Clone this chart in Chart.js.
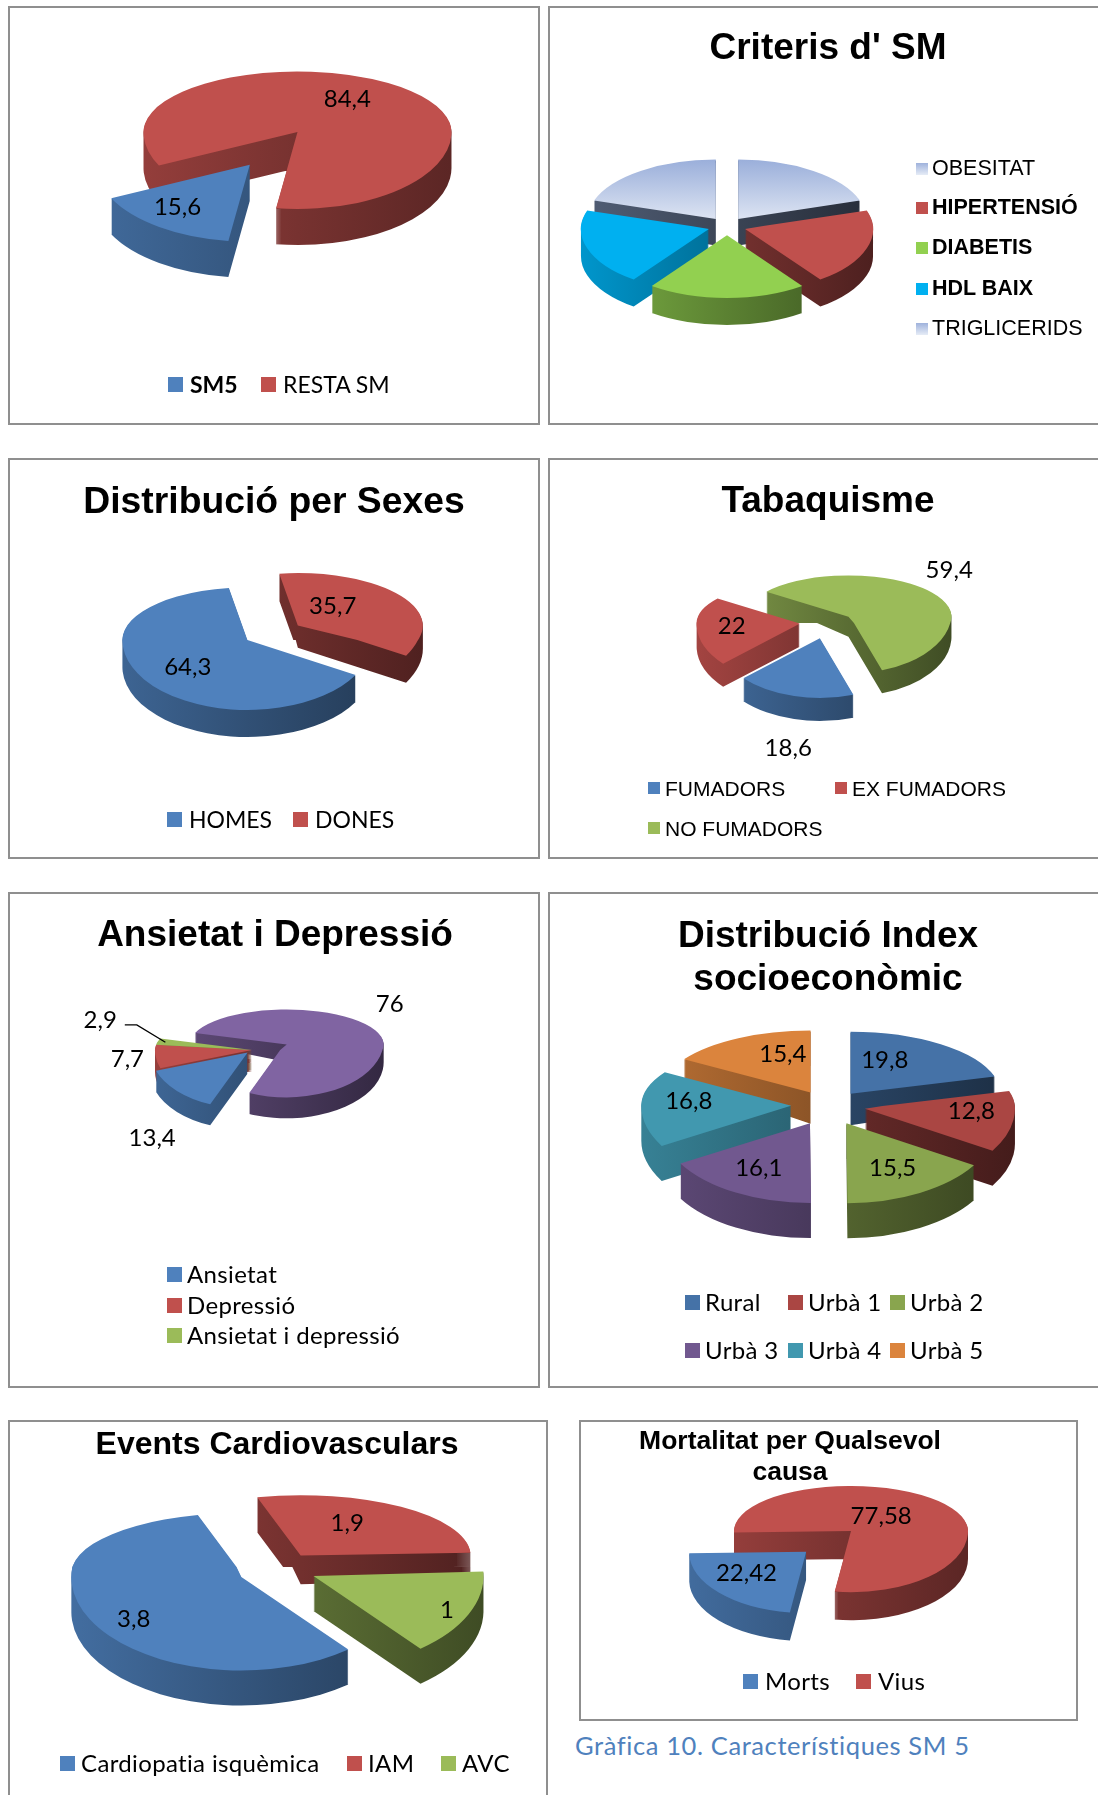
<!DOCTYPE html>
<html>
<head>
<meta charset="utf-8">
<title>Característiques SM 5</title>
<script src="https://cdn.jsdelivr.net/npm/chart.js@4.4.1/dist/chart.umd.min.js"></script>
<style>
  html, body { margin: 0; padding: 0; background: #fff; }
  body { position: relative; width: 1098px; height: 1795px; overflow: hidden; }
  .panel { position: absolute; border: 2px solid #8f8f8f; box-sizing: border-box; }
  canvas { position: absolute; }
  .title { position: absolute; font-family: "Liberation Sans", Arial, sans-serif; font-weight: bold;
           color: #000; text-align: center; white-space: nowrap; transform: translateX(-50%); }
  .key { position: absolute; display: flex; align-items: center; white-space: nowrap; line-height: 1; color: #000; }
  .key i { display: inline-block; flex: none; }
  .caption { position: absolute; font-family: Lato, sans-serif; color: #4f81bd; font-size: 25.5px;
             line-height: 26px; letter-spacing: 0.6px; white-space: nowrap; }
</style>
</head>
<body>
<script>
// values of every pie, in drawing order (clockwise from the first slice)
const sm5Labels = ['SM5', 'RESTA SM'];
const sm5Values = [15.6, 84.4];

const criterisLabels = ['OBESITAT', 'HIPERTENSIÓ', 'DIABETIS', 'HDL BAIX', 'TRIGLICERIDS'];
const criterisValues = [20, 20, 20, 20, 20];

const sexesLabels = ['HOMES', 'DONES'];
const sexesValues = [64.3, 35.7];

const tabacLabels = ['FUMADORS', 'EX FUMADORS', 'NO FUMADORS'];
const tabacValues = [18.6, 22, 59.4];

const ansietatLabels = ['Ansietat', 'Depressió', 'Ansietat i depressió', ''];
const ansietatValues = [13.4, 7.7, 2.9, 76];

const indexLabels = ['Rural', 'Urbà 1', 'Urbà 2', 'Urbà 3', 'Urbà 4', 'Urbà 5'];
const indexValues = [19.8, 12.8, 15.5, 16.1, 16.8, 15.4];

const cardioLabels = ['Cardiopatia isquèmica', 'IAM', 'AVC'];
const cardioValues = [3.8, 1.9, 1];

const mortalitatLabels = ['Morts', 'Vius'];
const mortalitatValues = [22.42, 77.58];

const BLUE = '#4f81bd', RED = '#c0504d', GREEN = '#9bbb59', PURPLE = '#8064a2';
const LAVENDER = '#c3cfea', LIME = '#92d050', CYAN = '#00b0f0', SLATE = '#5f6f8b';
const indexColors = ['#4572a7', '#aa4643', '#89a54e', '#71588f', '#4198af', '#db843d'];

function shade(hex, f) {
  const n = parseInt(hex.slice(1), 16);
  const r = (n >> 16) & 255, g = (n >> 8) & 255, b = n & 255;
  return 'rgb(' + Math.round(r * f) + ',' + Math.round(g * f) + ',' + Math.round(b * f) + ')';
}

function decimal(v) {
  return String(v).replace('.', ',');
}

function midAngle(arc) {
  return (arc.startAngle + arc.endAngle) / 2;
}

function centreOf(chart) {
  const ca = chart.chartArea;
  return [(ca.left + ca.right) / 2, (ca.top + ca.bottom) / 2];
}

// the far half of the pie is flattened more than the near half
function squash(ctx, o, mx, my, k) {
  ctx.translate(o.cx, o.cy);
  ctx.scale(1, k);
  ctx.translate(-mx, -my);
}

function toScreen(o, mx, my, x, y) {
  const z = y - my;
  return [o.cx + x - mx, o.cy + (z < 0 ? o.back : o.front) * z];
}

function drawSides(chart, o, k) {
  const ctx = chart.ctx;
  const [mx] = centreOf(chart);
  const arcs = chart.getDatasetMeta(0).data.map((arc, i) => ({ arc, i }));
  arcs.sort((a, b) => Math.sin(midAngle(a.arc)) - Math.sin(midAngle(b.arc)));
  const reach = Math.max(...o.explode) + arcs[0].arc.outerRadius;
  for (const { arc, i } of arcs) {
    const g = ctx.createLinearGradient(mx - reach, 0, mx + reach, 0);
    g.addColorStop(0, shade(o.sides[i], 0.85));
    g.addColorStop(0.5, shade(o.sides[i], 0.62));
    g.addColorStop(1, shade(o.sides[i], 0.4));
    ctx.fillStyle = g;
    ctx.beginPath();
    for (let d = o.depth; d > 0; d -= 1) {
      const y = arc.y + d / k;
      ctx.moveTo(arc.x, y);
      ctx.arc(arc.x, y, arc.outerRadius, arc.startAngle, arc.endAngle);
      ctx.closePath();
    }
    ctx.fill();
  }
}

// tilted pie: push slices out, extrude their sides, draw near and far halves
const pie3d = {
  id: 'pie3d',
  afterDatasetsUpdate(chart, args, o) {
    const [mx, my] = centreOf(chart);
    chart.getDatasetMeta(0).data.forEach((arc, i) => {
      const mid = midAngle(arc);
      const e = o.explode[i] || 0;
      arc.x = mx + Math.cos(mid) * e;
      arc.y = my + Math.sin(mid) * e;
    });
  },
  beforeDatasetsDraw(chart, args, o) {
    const ctx = chart.ctx;
    const [mx, my] = centreOf(chart);
    ctx.save();
    ctx.beginPath();
    ctx.rect(0, o.cy, chart.width, chart.height - o.cy);
    ctx.clip();
    squash(ctx, o, mx, my, o.front);
    drawSides(chart, o, o.front);
  },
  afterDatasetsDraw(chart, args, o) {
    const ctx = chart.ctx;
    const [mx, my] = centreOf(chart);
    ctx.restore();

    ctx.save();
    ctx.beginPath();
    ctx.rect(0, 0, chart.width, o.cy);
    ctx.clip();
    squash(ctx, o, mx, my, o.back);
    drawSides(chart, o, o.back);
    chart.getDatasetMeta(0).controller.draw();
    ctx.restore();

    if (!o.text) return;
    const values = chart.data.datasets[0].data;
    const size = o.text.size;
    ctx.save();
    ctx.font = size + 'px Lato';
    ctx.fillStyle = '#000';
    ctx.strokeStyle = '#000';
    ctx.textAlign = 'center';
    chart.getDatasetMeta(0).data.forEach((arc, i) => {
      const f = o.text.f[i];
      const a = midAngle(arc) + o.text.da[i] * Math.PI / 180;
      const r = f * arc.outerRadius;
      let [x, y] = toScreen(o, mx, my, arc.x + Math.cos(a) * r, arc.y + Math.sin(a) * r);
      if (f > 1) y += o.depth * Math.max(0, Math.sin(a));
      const label = decimal(values[i]);
      ctx.fillText(label, x, y + 0.36 * size);
      if (o.text.leader === i) {
        const m = midAngle(arc);
        const w = ctx.measureText(label).width;
        const x0 = x + w / 2 + 8, y0 = y + 6;
        const [x2, y2] = toScreen(o, mx, my,
          arc.x + Math.cos(m) * arc.outerRadius * 0.92,
          arc.y + Math.sin(m) * arc.outerRadius * 0.92);
        ctx.lineWidth = 1.3;
        ctx.beginPath();
        ctx.moveTo(x0, y0);
        ctx.lineTo(x0 + 12, y0);
        ctx.lineTo(x2, y2);
        ctx.stroke();
      }
    });
    ctx.restore();
  }
};

function addTitle(t) {
  const el = document.createElement('div');
  el.className = 'title';
  el.style.left = t.x + 'px';
  el.style.top = (t.y - t.lh / 2) + 'px';
  el.style.fontSize = t.size + 'px';
  el.style.lineHeight = t.lh + 'px';
  el.innerHTML = t.lines.join('<br>');
  document.body.appendChild(el);
}

function addLegend(p) {
  const lg = p.legend;
  p.labels.forEach((name, i) => {
    if (!name) return;
    const item = document.createElement('div');
    item.className = 'key';
    item.style.left = lg.at[i][0] + 'px';
    item.style.top = (lg.at[i][1] - lg.size / 2) + 'px';
    item.style.height = lg.size + 'px';
    item.style.fontFamily = lg.font;
    item.style.fontSize = lg.size + 'px';
    item.style.letterSpacing = (lg.spacing || 0) + 'px';
    item.style.fontWeight = lg.bold && lg.bold[i] ? 'bold' : 'normal';
    const sw = document.createElement('i');
    sw.style.width = lg.box + 'px';
    sw.style.height = lg.box + 'px';
    sw.style.marginRight = lg.gap + 'px';
    sw.style.background = lg.swatch ? lg.swatch[i] : p.colors[i];
    const txt = document.createElement('span');
    txt.textContent = name;
    item.append(sw, txt);
    document.body.appendChild(item);
  });
}

function makePanel(p) {
  const [left, top, width, height] = p.box;
  const box = document.createElement('div');
  box.className = 'panel';
  box.style.left = left + 'px';
  box.style.top = top + 'px';
  box.style.width = width + 'px';
  box.style.height = height + 'px';
  document.body.appendChild(box);

  const canvas = document.createElement('canvas');
  canvas.width = width;
  canvas.height = height;
  canvas.style.left = left + 'px';
  canvas.style.top = top + 'px';
  document.body.appendChild(canvas);

  const pie = p.pie;
  new Chart(canvas, {
    type: 'pie',
    data: {
      labels: p.labels,
      datasets: [{
        data: p.values,
        backgroundColor: p.fill || p.colors,
        borderWidth: 0,
        radius: pie.r,
        rotation: pie.rotation,
        clip: false
      }]
    },
    options: {
      responsive: false,
      animation: false,
      events: [],
      devicePixelRatio: 1,
      layout: { padding: 0 },
      plugins: {
        legend: { display: false },
        tooltip: { enabled: false },
        pie3d: {
          cx: pie.cx - left,
          cy: Math.round(pie.cy - top),
          back: pie.back,
          front: pie.front,
          depth: pie.depth,
          explode: pie.explode,
          sides: p.sides || p.colors,
          text: p.text || null
        }
      }
    },
    plugins: [pie3d]
  });

  if (p.title) addTitle(p.title);
  addLegend(p);
}

// pale gradient on the two light slices of the criteria pie
function paleTop(c) {
  const base = [LAVENDER, RED, LIME, CYAN, LAVENDER][c.dataIndex];
  if (base !== LAVENDER) return base;
  const { ctx, chartArea } = c.chart;
  if (!chartArea) return base;
  const my = (chartArea.top + chartArea.bottom) / 2;
  const g = ctx.createLinearGradient(0, my - 150, 0, my);
  g.addColorStop(0, '#97acd9');
  g.addColorStop(1, '#e4eaf5');
  return g;
}

const lowerKeys = { font: 'Lato', size: 24, spacing: 0.35, box: 15 };

const panels = [
  {
    box: [8, 6, 532, 419],
    labels: sm5Labels, values: sm5Values, colors: [BLUE, RED],
    pie: { cx: 297.5, cy: 132, r: 154, back: 0.393, front: 0.5, depth: 36, rotation: 188, explode: [81, 0] },
    text: { size: 24, f: [0.72, 0.64], da: [4.6, -5.7] },
    legend: { font: 'Lato', size: 23, box: 15, gap: 7, bold: [true, false], at: [[168, 384], [261, 384]] }
  },
  {
    box: [548, 6, 560, 419],
    title: { lines: ["Criteris d' SM"], x: 828, y: 47, size: 37, lh: 42 },
    labels: criterisLabels, values: criterisValues,
    colors: [LAVENDER, RED, LIME, CYAN, LAVENDER], fill: paleTop,
    sides: [SLATE, RED, LIME, CYAN, SLATE],
    pie: { cx: 727, cy: 226, r: 128, back: 0.463, front: 0.49, depth: 27, rotation: 0, explode: [19, 19, 19, 19, 19] },
    legend: {
      font: '"Liberation Sans", Arial', size: 21.5, box: 12, gap: 4,
      bold: [false, true, true, true, false],
      swatch: ['linear-gradient(#9fb2dc, #e6ecf6)', RED, LIME, CYAN, 'linear-gradient(#9fb2dc, #e6ecf6)'],
      at: [[916, 169], [916, 208], [916, 248], [916, 289], [916, 329]]
    }
  },
  {
    box: [8, 458, 532, 401],
    title: { lines: ['Distribució per Sexes'], x: 274, y: 500, size: 37.3, lh: 42 },
    labels: sexesLabels, values: sexesValues, colors: [BLUE, RED],
    pie: { cx: 247.4, cy: 640, r: 125, back: 0.42, front: 0.56, depth: 27, rotation: 120, explode: [0, 61] },
    text: { size: 24, f: [0.61, 0.47], da: [-4.3, -19.3] },
    legend: { font: 'Lato', size: 23, box: 15, gap: 7, at: [[167, 819], [293, 819]] }
  },
  {
    box: [548, 458, 560, 401],
    title: { lines: ['Tabaquisme'], x: 828, y: 500, size: 37, lh: 42 },
    labels: tabacLabels, values: tabacValues, colors: [BLUE, RED, GREEN],
    pie: { cx: 826.6, cy: 623, r: 103, back: 0.40, front: 0.58, depth: 23, rotation: 161, explode: [27, 27, 27] },
    text: { size: 24, f: [1.48, 0.66, 1.51], da: [-2.5, 0, -13.7] },
    legend: { font: '"Liberation Sans", Arial', size: 21, box: 12, gap: 5, at: [[648, 788], [835, 788], [648, 828]] }
  },
  {
    box: [8, 892, 532, 496],
    title: { lines: ['Ansietat i Depressió'], x: 275, y: 934, size: 37, lh: 42 },
    labels: ansietatLabels, values: ansietatValues, colors: [BLUE, RED, GREEN, PURPLE],
    pie: { cx: 252, cy: 1050, r: 97, back: 0.36, front: 0.58, depth: 21, rotation: 202.7, explode: [6, 0, 0, 38] },
    text: { size: 24, f: [1.57, 1.29, 1.8, 1.59], da: [-8, 0, 15.7, -24], leader: 2 },
    legend: Object.assign({ gap: 5, at: [[167, 1274], [167, 1305], [167, 1335]] }, lowerKeys)
  },
  {
    box: [548, 892, 560, 496],
    title: { lines: ['Distribució Index', 'socioeconòmic'], x: 828, y: 934, size: 37, lh: 43 },
    labels: indexLabels, values: indexValues, colors: indexColors,
    pie: { cx: 828.3, cy: 1106, r: 150, back: 0.414, front: 0.533, depth: 35, rotation: 0, explode: [37, 37, 37, 37, 37, 37] },
    text: { size: 24, f: [0.6, 0.71, 0.63, 0.65, 0.69, 0.65], da: [-14.6, -5.7, 0, 2, 6.6, 12.3] },
    legend: Object.assign({
      gap: 5, at: [[685, 1302], [788, 1302], [890, 1302], [685, 1350], [788, 1350], [890, 1350]]
    }, lowerKeys)
  },
  {
    box: [8, 1420, 540, 420],
    title: { lines: ['Events Cardiovasculars'], x: 277, y: 1443, size: 32, lh: 38 },
    labels: cardioLabels, values: cardioValues, colors: [BLUE, RED, GREEN],
    pie: { cx: 277, cy: 1567, r: 170, back: 0.355, front: 0.55, depth: 35, rotation: 141, explode: [40, 40, 40] },
    text: { size: 24, f: [0.77, 0.62, 0.86], da: [-7.8, -10, 0] },
    legend: Object.assign({ gap: 6, at: [[60, 1763], [347, 1763], [441, 1763]] }, lowerKeys)
  },
  {
    box: [579, 1420, 499, 301],
    title: { lines: ['Mortalitat per Qualsevol', 'causa'], x: 790, y: 1440, size: 26.5, lh: 31 },
    labels: mortalitatLabels, values: mortalitatValues, colors: [BLUE, RED],
    pie: { cx: 851, cy: 1531, r: 117, back: 0.385, front: 0.523, depth: 28, rotation: 188, explode: [60, 0] },
    text: { size: 24, f: [0.61, 0.44], da: [8.4, -12.5] },
    legend: Object.assign({ gap: 7, at: [[743, 1681], [856, 1681]] }, lowerKeys)
  }
];

panels.forEach(makePanel);

const caption = document.createElement('div');
caption.className = 'caption';
caption.style.left = '575px';
caption.style.top = (1745 - 13) + 'px';
caption.textContent = 'Gràfica 10. Característiques SM 5';
document.body.appendChild(caption);
</script>
</body>
</html>
